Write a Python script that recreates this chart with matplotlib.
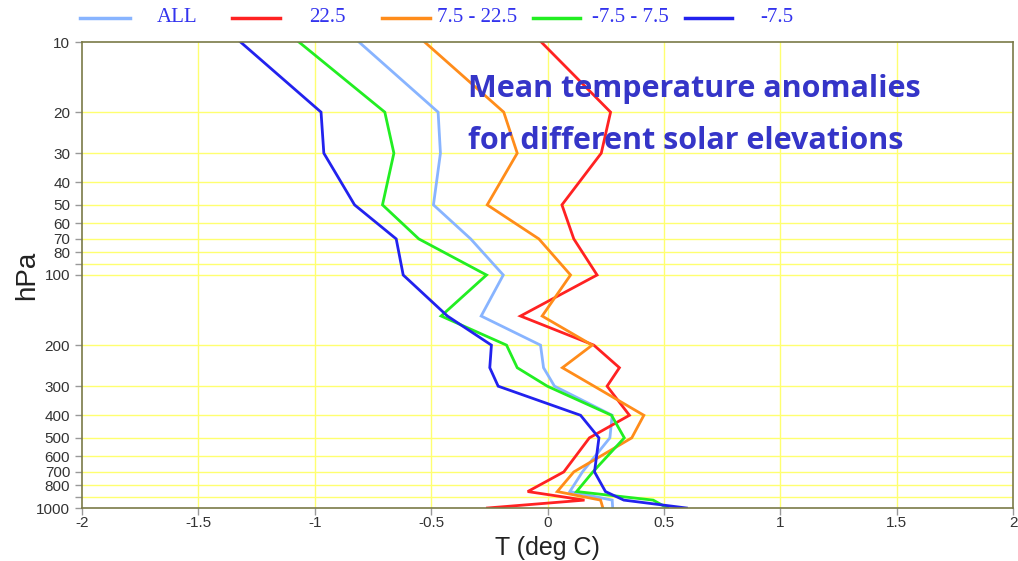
import matplotlib
matplotlib.use("Agg")
import matplotlib.pyplot as plt
from matplotlib.lines import Line2D
import numpy as np

# Pressure levels (hPa)
levels = [10, 20, 30, 50, 70, 100, 150, 200, 250, 300, 400, 500, 700, 850, 925, 1000]

# Mean temperature anomalies (deg C) per solar elevation class
t_all   = [-0.81, -0.47, -0.46, -0.49, -0.33, -0.19, -0.285, -0.03, -0.017, 0.03, 0.278, 0.268, 0.15, 0.096, 0.278, 0.28]
t_gt225 = [-0.027, 0.271, 0.231, 0.062, 0.113, 0.213, -0.116, 0.199, 0.309, 0.256, 0.352, 0.18, 0.07, -0.085, 0.159, -0.258]
t_75_225 = [-0.528, -0.188, -0.13, -0.259, -0.037, 0.099, -0.023, 0.192, 0.064, 0.20, 0.414, 0.362, 0.113, 0.042, 0.228, 0.238]
t_m75_75 = [-1.068, -0.699, -0.66, -0.709, -0.553, -0.262, -0.457, -0.176, -0.13, -0.001, 0.275, 0.33, 0.195, 0.125, 0.454, 0.515]
t_lt_m75 = [-1.319, -0.973, -0.961, -0.829, -0.65, -0.62, -0.43, -0.241, -0.248, -0.212, 0.142, 0.221, 0.202, 0.249, 0.328, 0.597]

series = [
    ("ALL", t_all, "#88b4ff"),
    ("22.5", t_gt225, "#ff2222"),
    ("7.5 - 22.5", t_75_225, "#ff8c1a"),
    ("-7.5 - 7.5", t_m75_75, "#22ee22"),
    ("-7.5", t_lt_m75, "#2222ee"),
]

ytick_vals = [10, 20, 30, 40, 50, 60, 70, 80, 90, 100, 200, 300, 400, 500, 600, 700, 800, 900, 1000]
ytick_labels = ["10", "20", "30", "40", "50", "60", "70", "80", "", "100", "200", "300", "400",
                "500", "600", "700", "800", "", "1000"]
xtick_vals = [-2, -1.5, -1, -0.5, 0, 0.5, 1, 1.5, 2]
xtick_labels = ["-2", "-1.5", "-1", "-0.5", "0", "0.5", "1", "1.5", "2"]

W, H = 1018, 561
fig = plt.figure(figsize=(W / 100, H / 100), dpi=100)
ax = fig.add_axes([82 / W, (H - 508) / H, (1013 - 82) / W, (508 - 42) / H])

ax.set_yscale("log")
ax.set_ylim(1000, 10)
ax.set_xlim(-2, 2)

for lab, vals, col in series:
    ax.plot(vals, levels, color=col, lw=2.0, solid_joinstyle="miter")

ax.yaxis.set_minor_locator(matplotlib.ticker.NullLocator())
ax.set_yticks(ytick_vals)
ax.set_yticklabels(ytick_labels)
ax.set_xticks(xtick_vals)
ax.set_xticklabels(xtick_labels)

grid_col = "#ffff70"
for v in ytick_vals[1:-1]:
    ax.axhline(v, color=grid_col, lw=1.0, zorder=0)
for v in xtick_vals[1:-1]:
    ax.axvline(v, color=grid_col, lw=1.0, zorder=0)

for s in ax.spines.values():
    s.set_color("#7a7a48")
    s.set_linewidth(1.2)

ax.tick_params(axis="both", direction="out", length=5, width=1, color="#999999",
               labelsize=11, labelcolor="#333333")
ax.tick_params(axis="x", pad=1)
for t in ax.get_xticklabels() + ax.get_yticklabels():
    t.set_family("Liberation Sans")

ax.set_xlabel("T (deg C)", fontsize=18, family="Liberation Sans", color="#222222")
ax.xaxis.set_label_coords((547 - 82) / (1013 - 82), -(548 - 508) / (508 - 42))
ax.xaxis.label.set_va("center")
ax.set_ylabel("hPa", fontsize=20, family="Liberation Sans", color="#222222")
ax.yaxis.set_label_coords(-(82 - 27) / (1013 - 82), (508 - 275) / (508 - 42))
ax.yaxis.label.set_va("center")

ax.text(468 / W, 1 - 89 / H, "Mean temperature anomalies", transform=fig.transFigure,
        fontsize=22, fontweight="bold", family="Open Sans", color="#3535c8", va="center", ha="left")
ax.text(468 / W, 1 - 141 / H, "for different solar elevations", transform=fig.transFigure,
        fontsize=22, fontweight="bold", family="Open Sans", color="#3535c8", va="center", ha="left")

# Legend row across the top
leg_y = 1 - 18 / H
leg_items = [
    (80, 130, 157, "ALL"),
    (232, 280, 309, "22.5"),
    (382, 430, 437, "7.5 - 22.5"),
    (533, 580, 592, "-7.5 - 7.5"),
    (685, 732, 760, "-7.5"),
]
for (x0, x1, xt, txt), (lab, vals, col) in zip(leg_items, series):
    fig.add_artist(Line2D([x0 / W, x1 / W], [leg_y, leg_y], color=col, lw=2.5,
                          transform=fig.transFigure))
    fig.text(xt / W, leg_y, txt, fontsize=15, family="Liberation Serif", color="#3333ee",
             va="center", ha="left")

fig.savefig("out.png", dpi=100, facecolor="white")
